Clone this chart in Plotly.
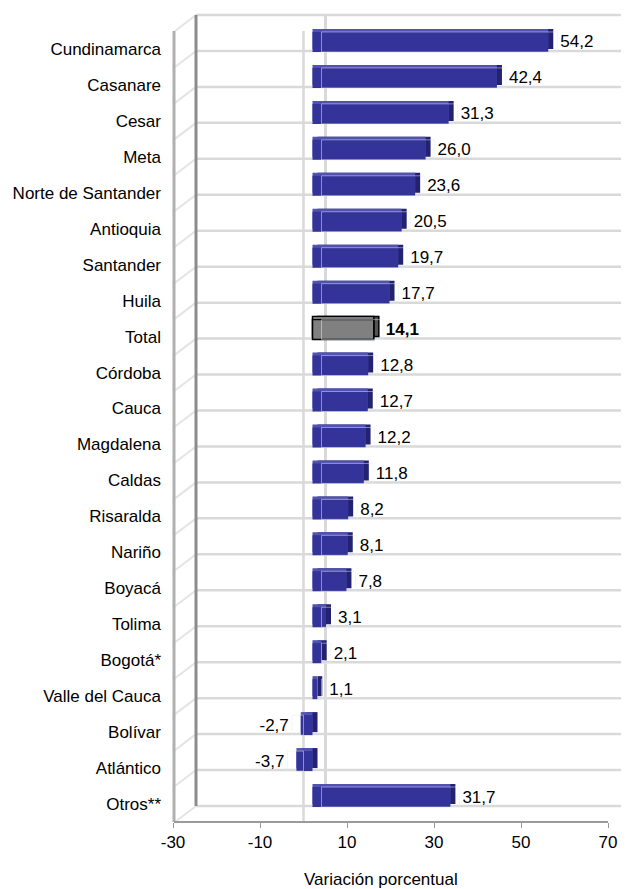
import plotly.graph_objects as go

categories = ["Cundinamarca", "Casanare", "Cesar", "Meta", "Norte de Santander",
              "Antioquia", "Santander", "Huila", "Total", "Córdoba", "Cauca",
              "Magdalena", "Caldas", "Risaralda", "Nariño", "Boyacá", "Tolima",
              "Bogotá*", "Valle del Cauca", "Bolívar", "Atlántico", "Otros**"]
values = [54.2, 42.4, 31.3, 26.0, 23.6, 20.5, 19.7, 17.7, 14.1, 12.8, 12.7,
          12.2, 11.8, 8.2, 8.1, 7.8, 3.1, 2.1, 1.1, -2.7, -3.7, 31.7]
x_ticks = [-30, -10, 10, 30, 50, 70]
highlight = "Total"

FONT = "Liberation Sans, Arial, sans-serif"
FS = 17

# page geometry, measured in screen px; the page body adds an 8px margin
W, H = 629, 889
PAGE = 8
L, R, T, B = 168, 629, 10, 822
wall_x = 174            # front edge of the left wall
ppu = 4.35              # px per percentage point
zero_front = 303.5      # px of 0 on the front plane
band_top = 31           # top of first category band on the front plane
n = len(categories)
step = (B - band_top) / n
mid = (9, 7)            # bars sit half way in (right, up)
back = (22, 16)         # back wall shift
bar_px = 20
top_px, side_px = 3, 5
label_gap = 9


def px_x(p):
    return (p - L) / (R - L)


def px_y(p):
    return (B - p) / (B - T)


def idx(p, top):
    return (p - top) / step - 0.5


is_hl = [c == highlight for c in categories]
front_col = ["#808080" if h else "#333399" for h in is_hl]
top_col = ["#a8a8a8" if h else "#5252b0" for h in is_hl]
side_col = ["#555555" if h else "#222270" for h in is_hl]
edge_w = [1.5 if h else 0 for h in is_hl]
labels = []
for v, h in zip(values, is_hl):
    s = f"{v:.1f}".replace(".", ",")
    labels.append(f"<b>{s}</b>" if h else s)

w = bar_px / step
shift_up = -w / 2 - top_px / step

fig = go.Figure()
# side face
fig.add_trace(go.Bar(
    x=values, y=categories, orientation="h", base=side_px / ppu,
    width=w, offset=shift_up,
    marker=dict(color=side_col, line=dict(color="black", width=edge_w)),
    hoverinfo="skip"))
# top face
fig.add_trace(go.Bar(
    x=values, y=categories, orientation="h",
    width=w, offset=shift_up,
    marker=dict(color=top_col, line=dict(color="black", width=edge_w)),
    hoverinfo="skip"))
# front face
fig.add_trace(go.Bar(
    x=values, y=categories, orientation="h", width=w,
    marker=dict(color=front_col, line=dict(color="black", width=edge_w)),
    hovertemplate="%{y}: %{x}<extra></extra>"))
# value labels, pushed out past the side face
fig.add_trace(go.Bar(
    x=values, y=categories, orientation="h", width=w,
    base=[label_gap / ppu if v >= 0 else -label_gap / ppu for v in values],
    marker=dict(color="rgba(0,0,0,0)"),
    text=labels, texttemplate="%{text}", textposition="outside",
    textfont=dict(family=FONT, size=FS, color="black"),
    constraintext="none", cliponaxis=False, hoverinfo="skip"))
# hidden trace so the front-plane axes (ticks, category names) get drawn
fig.add_trace(go.Scatter(
    x=values, y=list(range(n)), xaxis="x2", yaxis="y2", mode="none",
    hoverinfo="skip"))

# walls, floor and grid
shapes = []
grid = "#d9d9d9"
bx = zero_front + back[0]
for k in range(n + 1):
    yf = band_top + step * k
    yb = yf - back[1]
    shapes.append(dict(type="line", xref="paper", yref="paper",
                       x0=px_x(wall_x + back[0]), x1=1, y0=px_y(yb), y1=px_y(yb),
                       line=dict(color=grid, width=2.5), layer="below"))
    shapes.append(dict(type="line", xref="paper", yref="paper",
                       x0=px_x(wall_x + 1), x1=px_x(wall_x + back[0]),
                       y0=px_y(yf), y1=px_y(yb),
                       line=dict(color="#e4e4e4", width=2), layer="below"))
shapes += [
    dict(type="line", xref="paper", yref="paper",
         x0=px_x(wall_x + back[0]), x1=px_x(wall_x + back[0]),
         y0=px_y(band_top - back[1]), y1=px_y(B - back[1]),
         line=dict(color="#8c8c8c", width=3), layer="below"),
    dict(type="line", xref="paper", yref="paper",
         x0=px_x(wall_x), x1=px_x(wall_x), y0=px_y(band_top), y1=0,
         line=dict(color="#b0b0b0", width=3), layer="below"),
    dict(type="line", xref="paper", yref="paper",
         x0=px_x(bx), x1=px_x(bx), y0=px_y(band_top - back[1]), y1=px_y(B - back[1]),
         line=dict(color=grid, width=3), layer="below"),
    dict(type="line", xref="paper", yref="paper",
         x0=px_x(zero_front), x1=px_x(zero_front), y0=px_y(band_top), y1=0,
         line=dict(color=grid, width=2.5), layer="below"),
    dict(type="line", xref="paper", yref="paper",
         x0=px_x(wall_x), x1=px_x(zero_front + x_ticks[-1] * ppu), y0=0, y1=0,
         line=dict(color="#9a9a9a", width=2), layer="below"),
]

fig.update_layout(
    width=W, height=H,
    margin=dict(l=L - PAGE, r=W - R + PAGE, t=T - PAGE, b=H - B + PAGE),
    paper_bgcolor="white", plot_bgcolor="rgba(0,0,0,0)",
    barmode="overlay", showlegend=False,
    font=dict(family=FONT, size=FS, color="black"),
    shapes=shapes,
    xaxis=dict(visible=False,
               range=[(L - zero_front - mid[0]) / ppu, (R - zero_front - mid[0]) / ppu]),
    yaxis=dict(visible=False, type="category", categoryorder="array",
               categoryarray=categories,
               range=[idx(B, band_top - mid[1]), idx(T, band_top - mid[1])]),
    xaxis2=dict(overlaying="x", anchor="y2", side="bottom",
                range=[(L - zero_front) / ppu, (R - zero_front) / ppu],
                tickmode="array", tickvals=x_ticks,
                ticktext=[str(t) for t in x_ticks],
                ticks="outside", ticklen=5,
                tickcolor="#9a9a9a", showgrid=False, zeroline=False, showline=False,
                tickfont=dict(size=FS)),
    yaxis2=dict(overlaying="y", anchor="x2", side="left",
                range=[idx(B, band_top), idx(T, band_top)],
                tickmode="array", tickvals=list(range(n)), ticktext=categories,
                ticks="", showgrid=False, zeroline=False, showline=False,
                ticklabelstandoff=6, tickfont=dict(size=FS)),
    annotations=[dict(text="Variación porcentual", xref="paper", yref="paper",
                      x=px_x(381), y=px_y(879), yanchor="middle", showarrow=False,
                      font=dict(size=FS))],
)

fig.write_html("out.html")
